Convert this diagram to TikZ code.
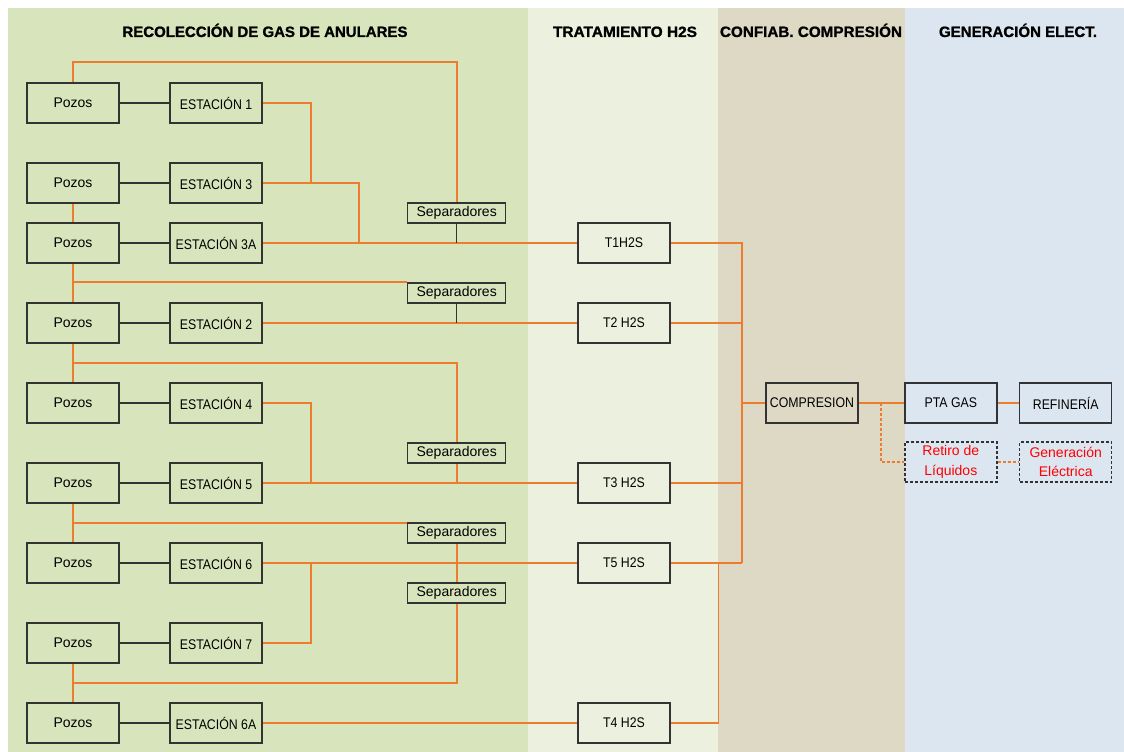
\documentclass[tikz,border=0pt]{standalone}
\usepackage{fontspec}
\setmainfont{Liberation Sans}
\newfontfamily\headfont[FakeBold=1.2]{Liberation Sans Bold}
\usepackage{graphicx}

\definecolor{zoneA}{HTML}{D8E4BC}
\definecolor{zoneB}{HTML}{EBF1DE}
\definecolor{zoneC}{HTML}{DDD9C4}
\definecolor{zoneD}{HTML}{DCE6F1}
\definecolor{pipeC}{HTML}{EC7D2E}
\definecolor{edgeC}{HTML}{333333}

% condensed capitals used inside the boxes
\newcommand\narrowtxt[1]{\scalebox{0.88}[1]{#1}}

\tikzset{
  box/.style={draw=edgeC, line width=1.5pt, minimum width=92pt, minimum height=40pt,
              inner sep=0pt, font=\fontsize{14}{16}\selectfont},
  sepbox/.style={draw=edgeC, line width=1.5pt, minimum width=98pt, minimum height=20pt,
              inner sep=0pt, font=\fontsize{14}{16}\selectfont},
  dbox/.style={box, dash pattern=on 3pt off 2pt, text=red, align=center,
              font=\fontsize{14}{19.5}\selectfont},
  pipe/.style={draw=pipeC, line width=1.6pt},
  dpipe/.style={pipe, dash pattern=on 3pt off 2pt},
  link/.style={draw=edgeC, line width=1.5pt},
  head/.style={anchor=base, inner sep=0pt, font=\headfont\fontsize{15}{17}\selectfont}
}

\begin{document}
\begin{tikzpicture}[x=1pt, y=-1pt]
\useasboundingbox (0,0) rectangle (1124,752);

% zone backgrounds
\fill[zoneA] (8,8) rectangle (528,752);
\fill[zoneB] (528,8) rectangle (718.3,752);
\fill[zoneC] (718.3,8) rectangle (904.7,752);
\fill[zoneD] (904.7,8) rectangle (1124,752);

% zone headings
\node[head] (h1) at (265,37) {\resizebox{285pt}{\height}{RECOLECCIÓN DE GAS DE ANULARES}};
\node[head] (h2) at (625,37) {\resizebox{144pt}{\height}{TRATAMIENTO H2S}};
\node[head] (h3) at (811,37) {\resizebox{182pt}{\height}{CONFIAB. COMPRESIÓN}};
\node[head] (h4) at (1018,37) {\resizebox{158pt}{\height}{GENERACIÓN ELECT.}};

% wells
\node[box] (p1) at (73,103) {Pozos};
\node[box] (p2) at (73,183) {Pozos};
\node[box] (p3) at (73,243) {Pozos};
\node[box] (p4) at (73,323) {Pozos};
\node[box] (p5) at (73,403) {Pozos};
\node[box] (p6) at (73,483) {Pozos};
\node[box] (p7) at (73,563) {Pozos};
\node[box] (p8) at (73,643) {Pozos};
\node[box] (p9) at (73,723) {Pozos};

% stations
\node[box] (e1)  at (216,103) {\narrowtxt{ESTACIÓN 1}};
\node[box] (e3)  at (216,183) {\narrowtxt{ESTACIÓN 3}};
\node[box] (e3a) at (216,243) {\narrowtxt{ESTACIÓN 3A}};
\node[box] (e2)  at (216,323) {\narrowtxt{ESTACIÓN 2}};
\node[box] (e4)  at (216,403) {\narrowtxt{ESTACIÓN 4}};
\node[box] (e5)  at (216,483) {\narrowtxt{ESTACIÓN 5}};
\node[box] (e6)  at (216,563) {\narrowtxt{ESTACIÓN 6}};
\node[box] (e7)  at (216,643) {\narrowtxt{ESTACIÓN 7}};
\node[box] (e6a) at (216,723) {\narrowtxt{ESTACIÓN 6A}};

% separators
\node[sepbox] (s1) at (456.7,213) {Separadores};
\node[sepbox] (s2) at (456.7,293) {Separadores};
\node[sepbox] (s3) at (456.7,453) {Separadores};
\node[sepbox] (s4) at (456.7,533) {Separadores};
\node[sepbox] (s5) at (456.7,593) {Separadores};

% H2S treatment
\node[box] (t1) at (624,243) {\narrowtxt{T1H2S}};
\node[box] (t2) at (624,323) {\narrowtxt{T2 H2S}};
\node[box] (t3) at (624,483) {\narrowtxt{T3 H2S}};
\node[box] (t5) at (624,563) {\narrowtxt{T5 H2S}};
\node[box] (t4) at (624,723) {\narrowtxt{T4 H2S}};

% compression and downstream
\node[box] (comp) at (812,403) {\narrowtxt{COMPRESION}};
\node[box] (pta)  at (950.8,403) {\narrowtxt{PTA GAS}};
\node[box] (ref)  at (1065.7,403) {\narrowtxt{REFINERÍA}};
\node[dbox] (ret) at (950.8,462) {Retiro de\\Líquidos};
\node[dbox] (gen) at (1065.7,462) {Generación\\Eléctrica};

% junction points
\coordinate (j1) at (311,183);
\coordinate (j2) at (359,243);
\coordinate (j3) at (311,483);
\coordinate (j4) at (311,563);
\coordinate (b3) at (73,363);
\coordinate (b4) at (73,523);
\coordinate (b5) at (73,683);
\coordinate (bus1) at (741.7,563);
\coordinate (bus2) at (718.3,563);
\coordinate (jd) at (880.7,403);

% wells to stations
\foreach \a/\b in {p1/e1,p2/e3,p3/e3a,p4/e2,p5/e4,p6/e5,p7/e6,p8/e7,p9/e6a}
  \draw[link] (\a.east) -- (\b.west);

% well interconnections
\draw[pipe] (p1.north) -- ++(0,-20) -| (s1.north);
\draw[pipe] (p2.south) -- (p3.north);
\draw[pipe] (p3.south) -- (p4.north);
\draw[pipe] (p3.south |- s2.north) -- (s2.north west);
\draw[pipe] (p4.south) -- (p5.north);
\draw[pipe] (b3) -| (s3.north);
\draw[pipe] (p6.south) -- (p7.north);
\draw[pipe] (b4) -- (b4 -| s4.west);
\draw[pipe] (p8.south) -- (p9.north);
\draw[pipe] (b5) -| (s5.south);

% station outlets
\draw[pipe] (e1.east) -| (j1);
\draw[pipe] (e3.east) -| (j2);
\draw[pipe] (e3a.east) -- (t1.west);
\draw[pipe] (e2.east) -- (t2.west);
\draw[pipe] (e4.east) -| (j3);
\draw[pipe] (e5.east) -- (t3.west);
\draw[pipe] (e6.east) -- (t5.west);
\draw[pipe] (e7.east) -| (j4);
\draw[pipe] (e6a.east) -- (t4.west);

% separator drops
\draw[link] (s1.south) -- (s1.south |- e3a.east);
\draw[link] (s2.south) -- (s2.south |- e2.east);
\draw[pipe] (s3.south) -- (s3.south |- e5.east);
\draw[pipe] (s4.south) -- (s5.north);

% treatment outlets to compression
\draw[pipe] (t1.east) -| (bus1);
\draw[pipe] (t5.east) -- (bus1);
\draw[pipe] (t2.east) -- (t2.east -| bus1);
\draw[pipe] (t3.east) -- (t3.east -| bus1);
\draw[pipe] (comp.west) -- (comp.west -| bus1);
\draw[pipe] (t4.east) -| (bus2);

% downstream
\draw[pipe] (comp.east) -- (pta.west);
\draw[pipe] (pta.east) -- (ref.west);
\draw[dpipe] (jd) |- (ret.west);
\draw[dpipe] (ret.east) -- (gen.west);
\end{tikzpicture}
\end{document}
